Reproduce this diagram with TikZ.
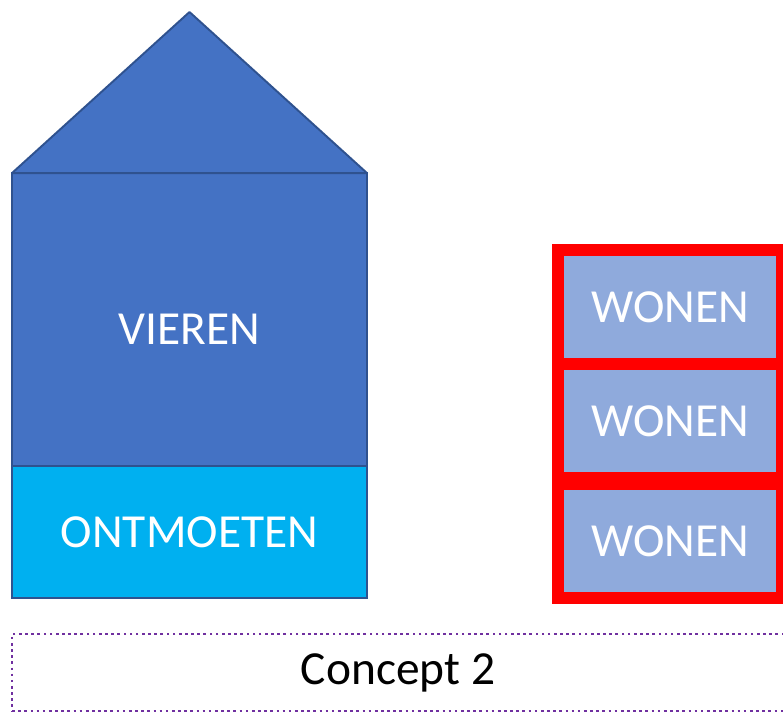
\documentclass[tikz,border=0pt]{standalone}
\usepackage{fontspec}
\setmainfont{Carlito}
\usepackage{xcolor}
\usetikzlibrary{positioning}
\definecolor{roofblue}{RGB}{68,114,196}
\definecolor{edgeblue}{RGB}{47,82,143}
\definecolor{meetblue}{RGB}{0,176,240}
\definecolor{liveblue}{RGB}{143,170,220}
\definecolor{conceptpurple}{RGB}{112,48,160}

\begin{document}
\begin{tikzpicture}[x=0.02cm, y=-0.02cm, node distance=0cm]
    \useasboundingbox (0,0) rectangle (783,714);

    % House: celebrating on top, meeting below
    \node[draw=edgeblue, line width=1.1pt, fill=roofblue, text=white, font=\fontsize{27}{32}\selectfont,
          minimum width=7.1cm, minimum height=5.86cm, inner sep=0pt, outer sep=0pt, text height=28pt] (vieren) at (189.5,319.5) {VIEREN};
    \node[draw=edgeblue, line width=1.1pt, fill=meetblue, text=white, font=\fontsize{27}{32}\selectfont,
          minimum width=7.1cm, minimum height=2.64cm, inner sep=0pt, outer sep=0pt, below=of vieren] (ontmoeten) {ONTMOETEN};

    % Roof
    \coordinate (top) at (189.5,12);
    \draw[draw=edgeblue, line width=1.1pt, fill=roofblue, line join=round] (vieren.north west) -- (top) -- (vieren.north east) -- cycle;

    % Living units
    \node[draw=red, line width=6.8pt, fill=liveblue, text=white, font=\fontsize{27}{32}\selectfont,
          minimum width=4.48cm, minimum height=2.28cm, inner sep=0pt, outer sep=0pt] (wonen1) at (670,307) {WONEN};
    \node[draw=red, line width=6.8pt, fill=liveblue, text=white, font=\fontsize{27}{32}\selectfont,
          minimum width=4.48cm, minimum height=2.28cm, inner sep=0pt, outer sep=0pt, below=of wonen1] (wonen2) {WONEN};
    \node[draw=red, line width=6.8pt, fill=liveblue, text=white, font=\fontsize{27}{32}\selectfont,
          minimum width=4.48cm, minimum height=2.28cm, inner sep=0pt, outer sep=0pt, below=0.12cm of wonen2] (wonen3) {WONEN};

    % Caption
    \node[draw=conceptpurple, dotted, line width=1.5pt, font=\fontsize{27}{32}\selectfont,
          minimum width=15.44cm, minimum height=1.54cm, inner sep=0pt] (concept) at (398,672.5) {Concept 2};

\end{tikzpicture}
\end{document}
